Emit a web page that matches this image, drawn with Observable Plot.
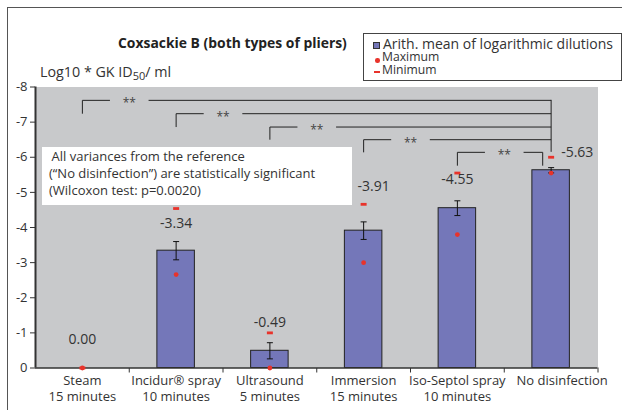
<!DOCTYPE html>
<html>
<head>
<meta charset="utf-8">
<script src="https://cdn.jsdelivr.net/npm/d3@7"></script>
<script src="https://cdn.jsdelivr.net/npm/@observablehq/plot@0.6"></script>
<style>
  body { margin: 0; background: #fff; }
  #wrap { position: relative; width: 622px; height: 410px; overflow: hidden; font-family: "Open Sans", "DejaVu Sans", sans-serif; color: #333; }
  #chart svg { position: absolute; left: 0; top: 0; }
  .ov { position: absolute; white-space: nowrap; }
  #frameTop { left: 7px; top: 7px; width: 615px; height: 0; border-top: 1.5px solid #555; }
  #frameLeft { left: 7px; top: 7px; width: 0; height: 403px; border-left: 1.5px solid #555; }
  #title { left: 118px; top: 33.5px; font-weight: bold; font-size: 13.9px; line-height: 18px; color: #222; }
  #ylabel { left: 40px; top: 63px; font-size: 14.3px; line-height: 18px; }
  #ylabel sub { font-size: 11px; vertical-align: -3px; line-height: 0; }
  #legend { left: 363px; top: 33px; width: 257px; height: 46px; border: 1px solid #444; background: #fff; }
  #legend .t { position: absolute; line-height: 14px; }
  #legend .sw { position: absolute; }
  #note { left: 42px; top: 147px; width: 310px; height: 58px; background: #fff; font-size: 13px; line-height: 17.2px; padding: 1px 0 0 7px; box-sizing: border-box; }
  #note .l1 { text-indent: 2.5px; }
  g[aria-label="stars"] text { letter-spacing: 2px; }
</style>
</head>
<body>
<div id="wrap">
  <div id="chart"></div>
  <div class="ov" id="frameTop"></div>
  <div class="ov" id="frameLeft"></div>
  <div class="ov" id="title"></div>
  <div class="ov" id="ylabel"></div>
  <div class="ov" id="legend"></div>
  <div class="ov" id="note"></div>
</div>
<script>
// ---- data ----
const categories = [
  "Steam\n15 minutes",
  "Incidur\u00AE spray\n10 minutes",
  "Ultrasound\n5 minutes",
  "Immersion\n15 minutes",
  "Iso-Septol spray\n10 minutes",
  "No disinfection"
];
const meanValues    = [0.00, -3.34, -0.49, -3.91, -4.55, -5.63];
const errorValues   = [0.00, 0.26, 0.23, 0.25, 0.21, 0.075];
const maximumValues = [0.00, -2.66, 0.00, -3.00, -3.80, -5.55];
const minimumValues = [0.00, -4.54, -1.00, -4.66, -5.55, -6.00];
const labelLevels   = [-0.81, -4.12, -1.29, -5.18, -5.36, -6.13];
const yTicks = [0, -1, -2, -3, -4, -5, -6, -7, -8];
const bracketFrom = ["Steam", "Incidur", "Ultrasound", "Immersion", "Iso-Septol"];
const bracketTo = "No disinfection";
const bracketLevels = [-7.62, -7.24, -6.86, -6.50, -6.14];
const significance = ["**", "**", "**", "**", "**"];

const titleText = "Coxsackie B (both types of pliers)";
const legendItems = ["Arith. mean of logarithmic dilutions", "Maximum", "Minimum"];
const noteLines = [
  "All variances from the reference",
  "(\u201CNo disinfection\u201D) are statistically significant",
  "(Wilcoxon test: p=0.0020)"
];

// ---- styles ----
const GRAY = "#c8c9cb", BAR = "#7477b9", RED = "#e8332b", INK = "#222";
const FONT = "'Open Sans', 'DejaVu Sans', sans-serif";

const rows = categories.map((c, i) => ({
  cat: c, i, mean: meanValues[i], err: errorValues[i],
  max: maximumValues[i], min: minimumValues[i],
  labelY: labelLevels[i], label: meanValues[i].toFixed(2)
}));

const idx = name => categories.findIndex(c => c.startsWith(name));
const brackets = bracketFrom.map((f, k) => {
  const last = k === bracketFrom.length - 1;
  return {
    from: idx(f),
    to: idx(bracketTo) - (last ? 0.09 : 0),
    level: bracketLevels[k],
    drop: last ? bracketLevels[k] + 0.38 : bracketLevels[k + 1],
    last,
    label: significance[k]
  };
});
const STAR_OFF = 0.5, GAP = 0.206;
const hsegs = brackets.flatMap(b => [
  {x1: b.from, x2: b.from + STAR_OFF - GAP, y: b.level},
  {x1: b.from + STAR_OFF + GAP, x2: b.to, y: b.level}
]);
const vsegs = brackets.flatMap(b => {
  const v = [{x: b.from, y1: b.level, y2: b.drop}];
  if (b.last) v.push({x: b.to, y1: b.level, y2: b.drop});
  return v;
});
const endIdx = idx(bracketTo);
const immIdx = idx("Immersion");

const capSymbol = { draw(ctx) { ctx.moveTo(-3, 0); ctx.lineTo(3, 0); } };
const dashSymbol = { draw(ctx) { ctx.rect(-3, -1.4, 6, 2.8); } };

const chart = Plot.plot({
  width: 622,
  height: 410,
  marginTop: 86.5,
  marginBottom: 42.5,
  marginLeft: 35,
  marginRight: 24.5,
  style: { fontFamily: FONT, fontSize: "13px", color: "#333", background: "transparent", overflow: "visible" },
  x: { domain: [-0.5, categories.length - 0.5], ticks: categories.map((c, i) => i + 0.5), tickFormat: () => "", tickSize: 5, label: null },
  y: { domain: [0, -8], ticks: yTicks, tickFormat: d => String(d), tickSize: 5, tickPadding: 3, label: null },
  marks: [
    Plot.frame({ fill: GRAY, stroke: null }),
    Plot.rectY(rows.filter(d => d.mean !== 0), { x1: d => d.i - 0.2, x2: d => d.i + 0.2, y1: 0, y2: "mean", fill: BAR, stroke: INK, strokeWidth: 1 }),
    Plot.ruleY([0], { stroke: "#333", strokeWidth: 1.5 }),
    Plot.ruleX([-0.5], { stroke: "#333", strokeWidth: 2 }),
    // significance brackets
    Plot.link(hsegs, { x1: "x1", x2: "x2", y1: "y", y2: "y", stroke: INK, strokeWidth: 1 }),
    Plot.link(vsegs, { x1: "x", x2: "x", y1: "y1", y2: "y2", stroke: INK, strokeWidth: 1 }),
    Plot.ruleX([endIdx], { y1: bracketLevels[0], y2: bracketLevels[bracketLevels.length - 1], stroke: INK, strokeWidth: 1 }),
    Plot.text(brackets, { x: d => d.from + STAR_OFF, y: "level", text: "label", dy: 3, fontSize: 12, fill: "#444", ariaLabel: "stars" }),
    // error bars
    Plot.link(rows.filter(d => d.err > 0), { x1: "i", x2: "i", y1: d => d.mean - d.err, y2: d => d.mean + d.err, stroke: "#111", strokeWidth: 1 }),
    Plot.dot(rows.filter(d => d.err > 0), { x: "i", y: d => d.mean - d.err, symbol: capSymbol, fill: "none", stroke: "#111", strokeWidth: 1 }),
    Plot.dot(rows.filter(d => d.err > 0), { x: "i", y: d => d.mean + d.err, symbol: capSymbol, fill: "none", stroke: "#111", strokeWidth: 1 }),
    // maximum / minimum
    Plot.dot(rows, { x: "i", y: "max", r: 2.4, fill: RED, stroke: null }),
    Plot.dot(rows, { x: "i", y: "min", symbol: dashSymbol, fill: RED, stroke: null }),
    // value labels
    Plot.text(rows.filter(d => d.i !== endIdx && d.i !== immIdx), { x: "i", y: "labelY", text: "label", fill: "#333", fontSize: 14 }),
    Plot.text(rows.filter(d => d.i === immIdx), { x: "i", y: "labelY", text: "label", dx: 10, fill: "#333", fontSize: 14 }),
    Plot.text(rows.filter(d => d.i === endIdx), { x: "i", y: "labelY", text: "label", textAnchor: "start", dx: 10, fill: "#333", fontSize: 14 }),
    // category labels
    Plot.text(rows.filter(d => d.i !== endIdx), { x: "i", frameAnchor: "bottom", text: "cat", lineAnchor: "top", dy: 5, lineHeight: 1.28, fill: "#333", fontSize: 13 }),
    Plot.text(rows.filter(d => d.i === endIdx), { x: "i", frameAnchor: "bottom", text: "cat", lineAnchor: "top", dy: 5, dx: 11, lineHeight: 1.28, fill: "#333", fontSize: 13 })
  ]
});
document.getElementById("chart").appendChild(chart);

// ---- overlays ----
document.getElementById("title").textContent = titleText;
document.getElementById("ylabel").innerHTML = "Log10 * GK ID<sub>50</sub>/ ml";
const lg = document.getElementById("legend");
lg.innerHTML = `
  <div class="sw" style="left:9px;top:8px;width:5px;height:5px;background:${BAR};border:1px solid #333;"></div>
  <div class="sw" style="left:11px;top:24px;width:4.5px;height:4.5px;border-radius:50%;background:${RED};"></div>
  <div class="sw" style="left:9.5px;top:36.5px;width:6px;height:2.5px;background:${RED};"></div>
  <div class="t" style="left:19px;top:3px;font-size:14px;">${legendItems[0]}</div>
  <div class="t" style="left:18px;top:16px;font-size:12.2px;">${legendItems[1]}</div>
  <div class="t" style="left:18px;top:29px;font-size:12.2px;">${legendItems[2]}</div>`;
document.getElementById("note").innerHTML = noteLines.map((t, i) => `<div class="l${i + 1}">${t}</div>`).join("");
</script>
</body>
</html>
